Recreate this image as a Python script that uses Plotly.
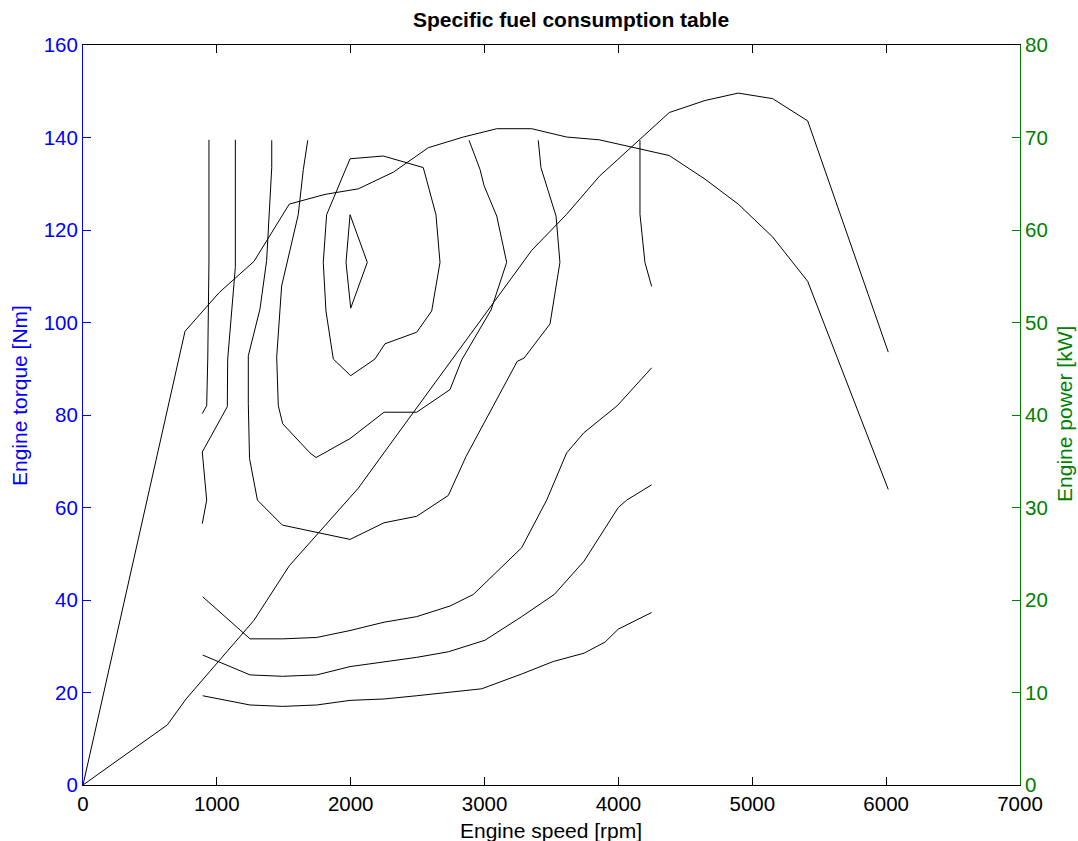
import plotly.graph_objects as go

# ---- full-load torque curve [rpm, Nm] ----
torque_rpm = [0, 762, 1018, 1277, 1541, 1808, 2057, 2318, 2580, 2841, 3091, 3352,
              3613, 3857, 4380, 4647, 4895, 5152, 5414, 6016]
torque_nm = [0, 98.1, 106.5, 113.2, 125.6, 127.7, 128.9, 132.5, 137.8, 140.1, 141.9,
             141.9, 140.1, 139.5, 136.1, 131.0, 125.6, 118.5, 108.9, 63.9]

# ---- full-load power curve [rpm, kW] ----
power_rpm = [0, 630, 770, 1277, 1541, 2057, 2318, 3352, 3613, 3857, 4380, 4647,
             4895, 5152, 5414, 6016]
power_kw = [0, 6.5, 9.3, 17.8, 23.7, 32.1, 37.3, 57.8, 61.7, 65.8, 72.7, 74.0,
            74.8, 74.2, 71.8, 46.8]

# ---- specific fuel consumption contour lines [rpm, Nm] ----
c1_rpm = [941, 941, 932, 924, 891]
c1_nm = [139.5, 113.3, 92.1, 82.0, 80.3]

c2_rpm = [1138, 1138, 1081, 1078, 891, 924, 891]
c2_nm = [139.5, 111.9, 92.1, 81.8, 72.0, 61.6, 56.5]

c3_rpm = [1410, 1410, 1372, 1322, 1235, 1235, 1244, 1303, 1489, 1995, 2249, 2493,
          2729, 2861, 3244, 3295, 3489, 3563, 3534, 3421, 3401]
c3_nm = [139.4, 133.5, 113.4, 102.9, 92.8, 82.5, 70.6, 61.6, 56.2, 53.1, 56.7, 58.1,
         62.6, 71.0, 91.6, 92.3, 99.7, 113.0, 123.0, 133.5, 139.4]

c4_rpm = [1679, 1646, 1608, 1522, 1484, 1447, 1459, 1492, 1696, 1741, 1995, 2249,
          2493, 2742, 2829, 3048, 3165, 3091, 2996, 2966, 2884]
c4_nm = [139.4, 133.1, 123.3, 113.0, 107.9, 92.5, 82.0, 78.1, 71.8, 70.8, 74.9, 80.6,
         80.6, 85.5, 91.9, 102.7, 113.0, 123.0, 129.6, 133.1, 139.4]

c5_rpm = [4161, 4161, 4198, 4248]
c5_nm = [139.4, 123.4, 113.0, 107.8]

c6_rpm = [1995, 2124, 2000, 1965, 1995]
c6_nm = [123.3, 113.0, 103.1, 113.0, 123.3]

c7_rpm = [1995, 2243, 2542, 2637, 2667, 2605, 2493, 2256, 2181, 2000, 1870, 1815,
          1795, 1820, 1995]
c7_nm = [135.4, 136.0, 133.5, 123.3, 113.0, 102.5, 97.9, 95.4, 92.1, 88.5, 92.1,
         102.5, 113.0, 123.3, 135.4]

c8_rpm = [894, 1248, 1492, 1746, 1995, 2249, 2493, 2742, 2916, 3003, 3277, 3464,
          3613, 3743, 3991, 4248]
c8_nm = [40.7, 31.6, 31.6, 31.9, 33.4, 35.2, 36.4, 38.7, 41.2, 43.6, 51.3, 61.6,
         71.8, 76.2, 82.0, 90.2]

c9_rpm = [894, 1248, 1492, 1746, 1995, 2249, 2493, 2729, 3003, 3277, 3521, 3743,
          3999, 4062, 4248]
c9_nm = [28.1, 23.8, 23.5, 23.8, 25.6, 26.7, 27.6, 28.8, 31.3, 36.4, 41.2, 48.4,
         60.0, 61.6, 64.9]

c10_rpm = [894, 1248, 1492, 1746, 1995, 2249, 2493, 2729, 2978, 3277, 3513, 3743,
           3900, 3999, 4062, 4248]
c10_nm = [19.3, 17.3, 17.0, 17.3, 18.3, 18.6, 19.3, 20.1, 20.8, 24.0, 26.7, 28.5,
          30.9, 33.7, 34.6, 37.3]

x_ticks = [0, 1000, 2000, 3000, 4000, 5000, 6000, 7000]
y_ticks = [0, 20, 40, 60, 80, 100, 120, 140, 160]
y2_ticks = [0, 10, 20, 30, 40, 50, 60, 70, 80]

FONT = "Liberation Sans, Arial, Helvetica, sans-serif"
BLUE = "#0000ff"
GREEN = "#008000"
TICK_SIZE = 20.5
LABEL_SIZE = 21

fig = go.Figure()
line_style = dict(color="black", width=1)

contours = [(c1_rpm, c1_nm), (c2_rpm, c2_nm), (c3_rpm, c3_nm), (c4_rpm, c4_nm),
            (c5_rpm, c5_nm), (c6_rpm, c6_nm), (c7_rpm, c7_nm), (c8_rpm, c8_nm),
            (c9_rpm, c9_nm), (c10_rpm, c10_nm)]
for i, (xs, ys) in enumerate(contours):
    fig.add_trace(go.Scatter(x=xs, y=ys, mode="lines", line=line_style,
                             name=f"BSFC contour {i + 1}", showlegend=False))

fig.add_trace(go.Scatter(x=torque_rpm, y=torque_nm, mode="lines", line=line_style,
                         name="Max torque", showlegend=False))
fig.add_trace(go.Scatter(x=power_rpm, y=power_kw, mode="lines", line=line_style,
                         name="Max power", yaxis="y2", showlegend=False))

fig.update_layout(
    width=1078, height=841,
    margin=dict(l=83, r=58, t=45, b=56, pad=0),
    paper_bgcolor="white", plot_bgcolor="white",
    font=dict(family=FONT, size=TICK_SIZE, color="black"),
    title=dict(text="<b>Specific fuel consumption table</b>", x=0.5297, xanchor="center",
               y=0.977, yanchor="middle", font=dict(family=FONT, size=21, color="black")),
    xaxis=dict(range=[0, 7000], tickvals=x_ticks, showgrid=False, zeroline=False,
               showline=True, linecolor="black", linewidth=1, mirror="ticks",
               ticks="inside", ticklen=8, tickcolor="black",
               tickfont=dict(size=TICK_SIZE, color="black")),
    yaxis=dict(range=[0, 160], tickvals=y_ticks, showgrid=False, zeroline=False,
               showline=True, linecolor=BLUE, linewidth=1,
               ticks="inside", ticklen=8, tickcolor=BLUE,
               tickfont=dict(size=TICK_SIZE, color=BLUE)),
    yaxis2=dict(range=[0, 80], tickvals=y2_ticks, overlaying="y", side="right",
                showgrid=False, zeroline=False, showline=True, linecolor=GREEN,
                linewidth=1, ticks="inside", ticklen=8, tickcolor=GREEN,
                tickfont=dict(size=TICK_SIZE, color=GREEN)),
    annotations=[
        dict(text="Engine speed [rpm]", xref="paper", yref="paper", x=0.4995, y=-0.061,
             xanchor="center", yanchor="middle", showarrow=False,
             font=dict(size=LABEL_SIZE, color="black")),
        dict(text="Engine torque [Nm]", xref="paper", yref="paper", x=-0.0672, y=0.5257,
             xanchor="center", yanchor="middle", showarrow=False, textangle=-90,
             font=dict(size=LABEL_SIZE, color=BLUE)),
        dict(text="Engine power [kW]", xref="paper", yref="paper", x=1.048, y=0.5014,
             xanchor="center", yanchor="middle", showarrow=False, textangle=-90,
             font=dict(size=LABEL_SIZE, color=GREEN)),
    ],
)

fig.write_html("out.html")
